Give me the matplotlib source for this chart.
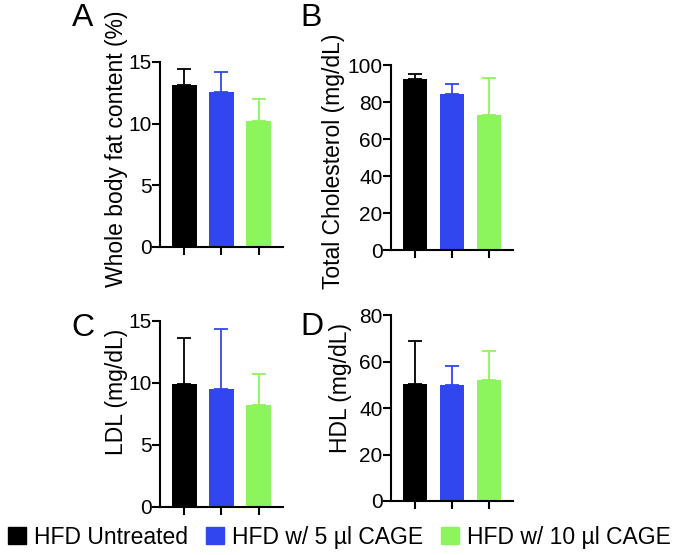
import matplotlib.pyplot as plt
from matplotlib.patches import Patch

plt.rcParams['font.family'] = ['Liberation Sans', 'DejaVu Sans']

groups = ['HFD Untreated', 'HFD w/ 5 µl CAGE', 'HFD w/ 10 µl CAGE']
colors = ['#000000', '#3246ef', '#8df55c']

fat_mean = [13.1, 12.6, 10.2]
fat_err = [1.3, 1.6, 1.8]
chol_mean = [92.4, 84.5, 72.8]
chol_err = [2.9, 5.1, 20.0]
ldl_mean = [9.9, 9.5, 8.2]
ldl_err = [3.7, 4.8, 2.5]
hdl_mean = [50.3, 49.9, 51.9]
hdl_err = [18.5, 8.1, 12.6]

fs_lab = 16.5
fs_tick = 15
fig = plt.figure(figsize=(6.77, 5.55), dpi=100)

panels = [
    # rect, means, errs, ylabel, yticks, letter, letter pos, label coords
    ([0.2363, 0.555, 0.1817, 0.3333], fat_mean, fat_err, 'Whole body fat content (%)',
     [0, 5, 10, 15], 'A', (0.106, 0.953), (-0.26, 0.53)),
    ([0.5776, 0.5495, 0.1802, 0.3333], chol_mean, chol_err, 'Total Cholesterol (mg/dL)',
     [0, 20, 40, 60, 80, 100], 'B', (0.444, 0.953), (-0.375, 0.48)),
    ([0.2363, 0.087, 0.1817, 0.335], ldl_mean, ldl_err, 'LDL (mg/dL)',
     [0, 5, 10, 15], 'C', (0.106, 0.395), (-0.26, 0.62)),
    ([0.5776, 0.0973, 0.1802, 0.335], hdl_mean, hdl_err, 'HDL (mg/dL)',
     [0, 20, 40, 60, 80], 'D', (0.444, 0.396), (-0.32, 0.61)),
]

x = [0, 1, 2]
for rect, means, errs, ylab, yticks, letter, lpos, lcoords in panels:
    ax = fig.add_axes(rect)
    ax.bar(x, means, width=0.66, color=colors, zorder=2)
    for xi, m, e, c in zip(x, means, errs, colors):
        ax.errorbar(xi, m, yerr=[[0], [e]], color=c, capsize=5,
                    elinewidth=1.3, capthick=1.3, zorder=1)
    ax.set_xlim(-0.66, 2.66)
    ax.set_ylim(yticks[0], yticks[-1])
    ax.set_yticks(yticks)
    ax.set_xticks(x)
    ax.set_xticklabels([])
    ax.spines['top'].set_visible(False)
    ax.spines['right'].set_visible(False)
    ax.spines['left'].set_linewidth(1.5)
    ax.spines['bottom'].set_linewidth(1.5)
    ax.tick_params(axis='y', direction='out', length=5.5, width=1.5,
                   labelsize=fs_tick, pad=0.5)
    ax.tick_params(axis='x', direction='out', length=5.5, width=1.5)
    ax.set_ylabel(ylab, fontsize=fs_lab)
    ax.yaxis.set_label_coords(*lcoords)
    fig.text(lpos[0], lpos[1], letter, fontsize=23, ha='left', va='baseline')

handles = [Patch(color=c) for c in colors]
fig.legend(handles, groups, ncol=3, loc='center', bbox_to_anchor=(0.5015, 0.032),
           frameon=False, fontsize=fs_lab, handlelength=0.78, handleheight=0.78,
           handletextpad=0.35, columnspacing=0.8, borderaxespad=0, borderpad=0)

fig.savefig('out.png', dpi=100)
